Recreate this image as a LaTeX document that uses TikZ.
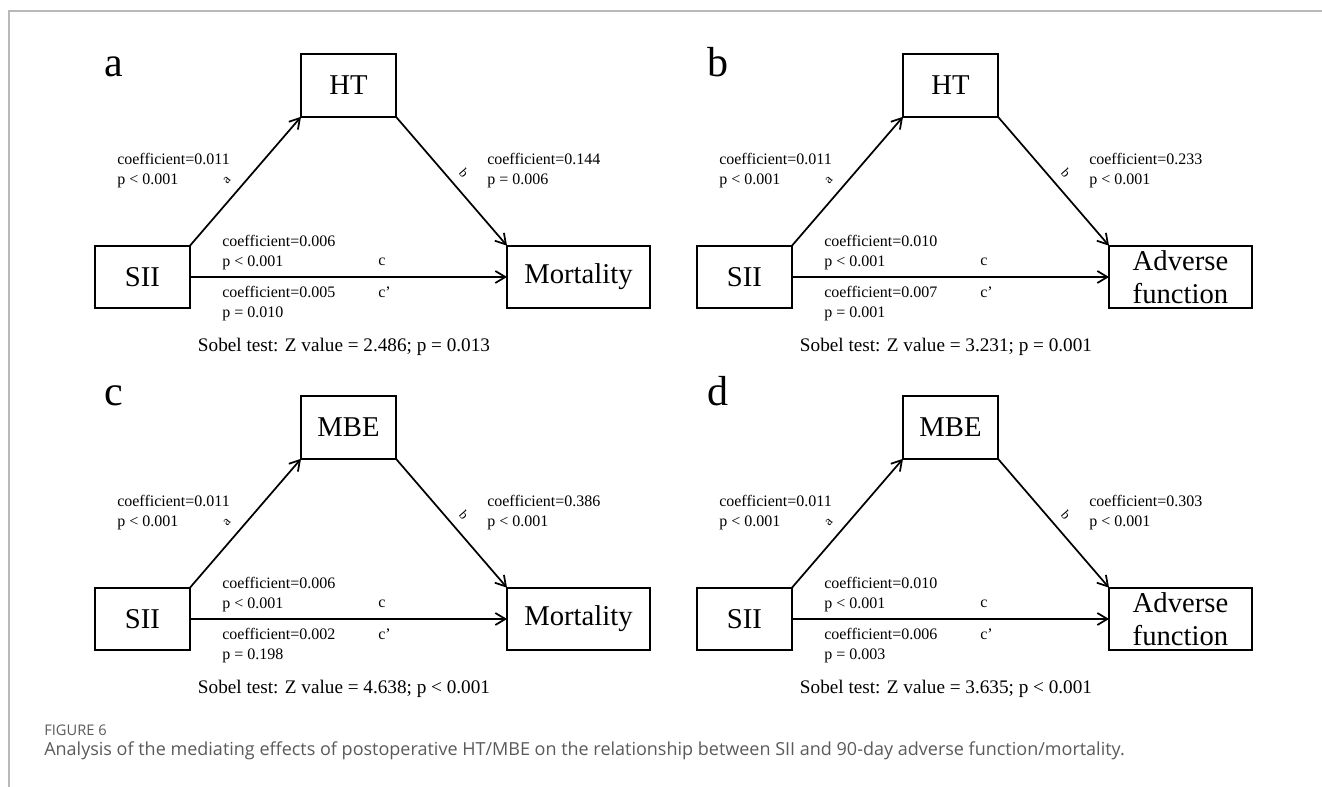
\documentclass[tikz,border=0pt]{standalone}
\usepackage{fontspec}
\setmainfont{Liberation Serif}
\newfontfamily\capfont{Open Sans}
\usetikzlibrary{arrows.meta}
\definecolor{capgray}{RGB}{90,90,90}
\definecolor{rulegray}{RGB}{185,185,185}

\begin{document}
\begin{tikzpicture}[x=0.75pt,y=-0.75pt,
    var/.style={draw,line width=1.3pt,inner sep=0pt,outer sep=0pt,minimum width=71.25pt,minimum height=47pt,align=center,font=\fontsize{21.5}{24.75}\selectfont},
    wide/.style={minimum width=107.25pt},
    link/.style={-{Straight Barb[length=7.5pt,width=9pt]},line width=1.3pt},
    stat/.style={inner sep=0pt,align=left,font=\fontsize{12}{15}\selectfont},
    tiny/.style={inner sep=0pt,font=\fontsize{10}{12}\selectfont},
    tag/.style={inner sep=0pt,anchor=base west,font=\fontsize{31.5}{36}\selectfont},
    sobel/.style={inner sep=0pt,anchor=base,font=\fontsize{14.4}{17}\selectfont}]
       \useasboundingbox (0,0) rectangle (1322,787);
       \draw[rulegray,line width=1.1pt] (9,787) -- (9,11) -- (1322,11);

       % panel letters
       \node[tag] (tagA) at (104.5,77) {a};
       \node[tag] (tagB) at (707,77) {b};
       \node[tag] (tagC) at (104.5,406) {c};
       \node[tag] (tagD) at (707,406) {d};

       % a: HT -> mortality
       \node[var] (siiA) at (142.5,277) {SII};
       \node[var] (htA) at (348.5,85.5) {HT};
       \node[var,wide] (mortA) at (578.5,277) {Mortality};
       \draw[link] (siiA.north east) -- (htA.south west);
       \draw[link] (htA.south east) -- (mortA.north west);
       \draw[link] (siiA) -- (mortA);
       \node[stat,anchor=west] (saA) at (117,171) {coefficient=0.011\\p < 0.001};
       \node[tiny,rotate=49] (laA) at (227,180) {a};
       \node[stat,anchor=west] (sbA) at (487,171) {coefficient=0.144\\p = 0.006};
       \node[tiny,rotate=-49] (lbA) at (464,173) {b};
       \node[stat,anchor=west] (scA) at (222,253) {coefficient=0.006\\p < 0.001};
       \node[stat,anchor=base west] (lcA) at (378,266) {c};
       \node[stat,anchor=west] (sdA) at (222,304) {coefficient=0.005\\p = 0.010};
       \node[stat,anchor=base west] (ldA) at (378,298) {c’};
       \node[sobel] (zA) at (344,352) {Sobel test: Z value = 2.486; p = 0.013};

       % b: HT -> adverse function
       \begin{scope}[shift={(602,0)}]
       \node[var] (siiB) at (142.5,277) {SII};
       \node[var] (htB) at (348.5,85.5) {HT};
       \node[var,wide] (advB) at (578.5,277) {Adverse\\function};
       \draw[link] (siiB.north east) -- (htB.south west);
       \draw[link] (htB.south east) -- (advB.north west);
       \draw[link] (siiB) -- (advB);
       \node[stat,anchor=west] (saB) at (117,171) {coefficient=0.011\\p < 0.001};
       \node[tiny,rotate=49] (laB) at (227,180) {a};
       \node[stat,anchor=west] (sbB) at (487,171) {coefficient=0.233\\p < 0.001};
       \node[tiny,rotate=-49] (lbB) at (464,173) {b};
       \node[stat,anchor=west] (scB) at (222,253) {coefficient=0.010\\p < 0.001};
       \node[stat,anchor=base west] (lcB) at (378,266) {c};
       \node[stat,anchor=west] (sdB) at (222,304) {coefficient=0.007\\p = 0.001};
       \node[stat,anchor=base west] (ldB) at (378,298) {c’};
       \node[sobel] (zB) at (344,352) {Sobel test: Z value = 3.231; p = 0.001};
       \end{scope}

       % c: MBE -> mortality
       \begin{scope}[shift={(0,342)}]
       \node[var] (siiC) at (142.5,277) {SII};
       \node[var] (mbeC) at (348.5,85.5) {MBE};
       \node[var,wide] (mortC) at (578.5,277) {Mortality};
       \draw[link] (siiC.north east) -- (mbeC.south west);
       \draw[link] (mbeC.south east) -- (mortC.north west);
       \draw[link] (siiC) -- (mortC);
       \node[stat,anchor=west] (saC) at (117,171) {coefficient=0.011\\p < 0.001};
       \node[tiny,rotate=49] (laC) at (227,180) {a};
       \node[stat,anchor=west] (sbC) at (487,171) {coefficient=0.386\\p < 0.001};
       \node[tiny,rotate=-49] (lbC) at (464,173) {b};
       \node[stat,anchor=west] (scC) at (222,253) {coefficient=0.006\\p < 0.001};
       \node[stat,anchor=base west] (lcC) at (378,266) {c};
       \node[stat,anchor=west] (sdC) at (222,304) {coefficient=0.002\\p = 0.198};
       \node[stat,anchor=base west] (ldC) at (378,298) {c’};
       \node[sobel] (zC) at (344,352) {Sobel test: Z value = 4.638; p < 0.001};
       \end{scope}

       % d: MBE -> adverse function
       \begin{scope}[shift={(602,342)}]
       \node[var] (siiD) at (142.5,277) {SII};
       \node[var] (mbeD) at (348.5,85.5) {MBE};
       \node[var,wide] (advD) at (578.5,277) {Adverse\\function};
       \draw[link] (siiD.north east) -- (mbeD.south west);
       \draw[link] (mbeD.south east) -- (advD.north west);
       \draw[link] (siiD) -- (advD);
       \node[stat,anchor=west] (saD) at (117,171) {coefficient=0.011\\p < 0.001};
       \node[tiny,rotate=49] (laD) at (227,180) {a};
       \node[stat,anchor=west] (sbD) at (487,171) {coefficient=0.303\\p < 0.001};
       \node[tiny,rotate=-49] (lbD) at (464,173) {b};
       \node[stat,anchor=west] (scD) at (222,253) {coefficient=0.010\\p < 0.001};
       \node[stat,anchor=base west] (lcD) at (378,266) {c};
       \node[stat,anchor=west] (sdD) at (222,304) {coefficient=0.006\\p = 0.003};
       \node[stat,anchor=base west] (ldD) at (378,298) {c’};
       \node[sobel] (zD) at (344,352) {Sobel test: Z value = 3.635; p < 0.001};
       \end{scope}

       % caption
       \node[inner sep=0pt,anchor=base west,text=capgray,font=\capfont\fontsize{11}{13}\selectfont] (figno) at (44,736) {FIGURE 6};
       \node[inner sep=0pt,anchor=base west,text=capgray,font=\capfont\fontsize{13.5}{16}\selectfont] (caption) at (44,756) {Analysis of the mediating effects of postoperative HT/MBE on the relationship between SII and 90-day adverse function/mortality.};
     \end{tikzpicture}
\end{document}
